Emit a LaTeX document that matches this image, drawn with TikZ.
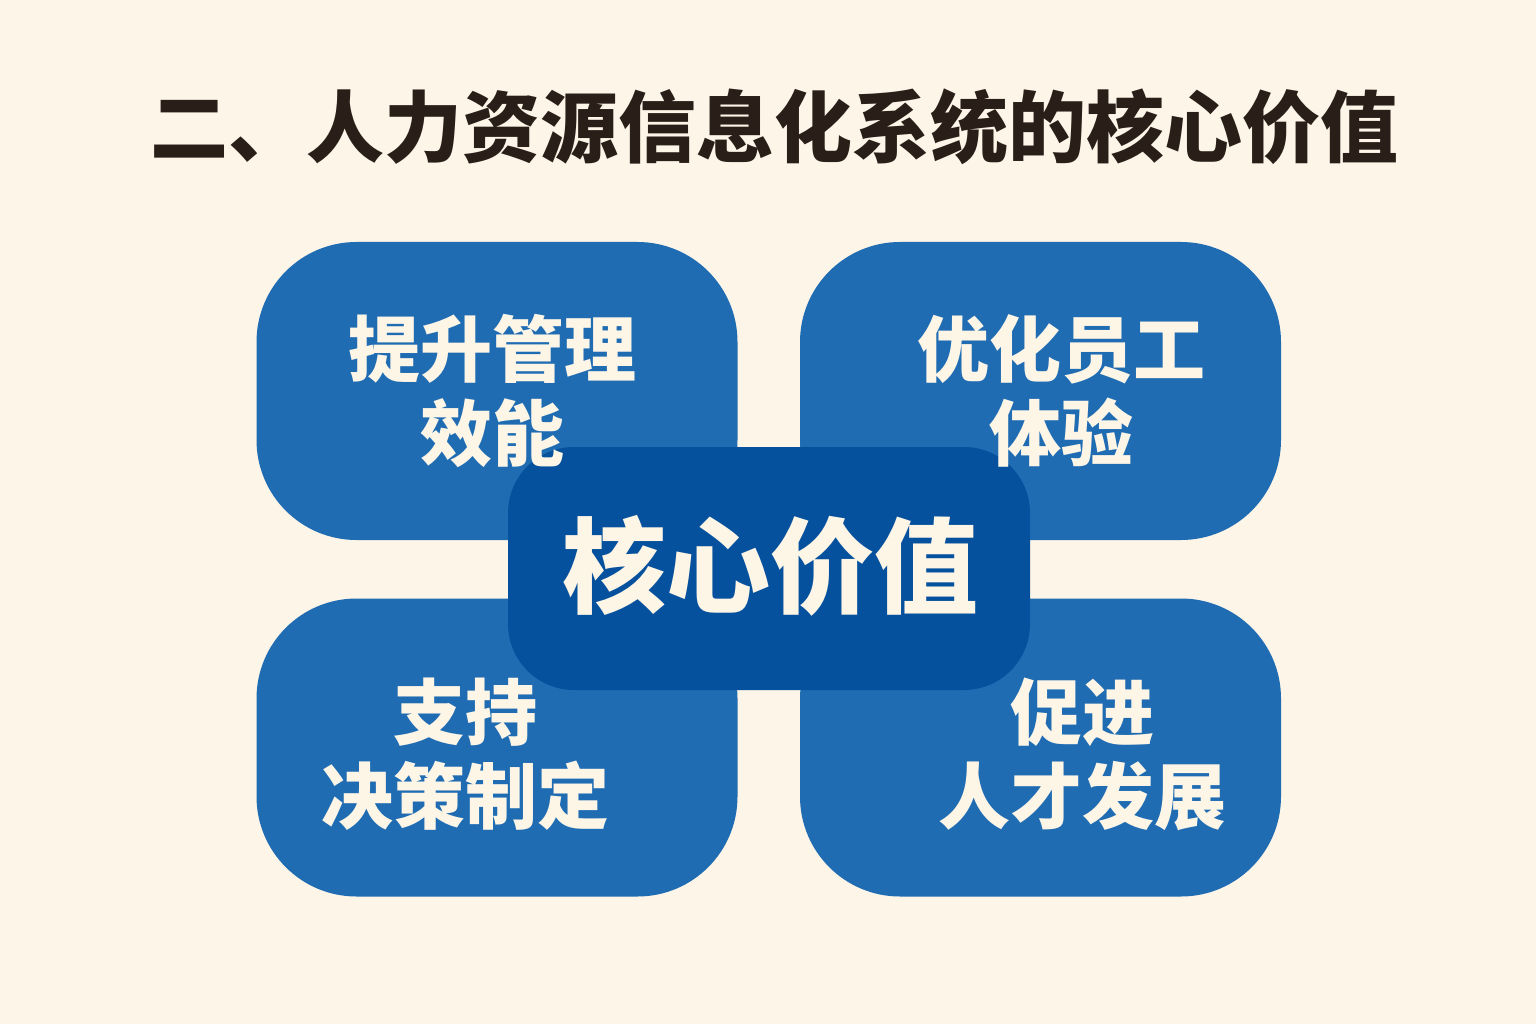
\documentclass[tikz,border=0pt]{standalone}
\usepackage{fontspec}
\newfontfamily\cjk{Noto Sans CJK SC}
\definecolor{bgc}{HTML}{FDF5E7}
\definecolor{outerblue}{HTML}{1F6CB3}
\definecolor{innerblue}{HTML}{06519D}
\definecolor{titlec}{HTML}{2A1E18}
\definecolor{txtc}{HTML}{FDF5E6}
\tikzset{
  outerbox/.style={fill=outerblue, draw=none, rounded corners=100pt, inner sep=0pt,
    minimum width=481pt, minimum height=298pt},
  centerbox/.style={fill=innerblue, draw=none, rounded corners=66pt, inner sep=0pt,
    minimum width=522pt, minimum height=243pt},
  boxtext/.style={text=txtc, align=center, inner sep=0pt,
    font=\cjk\bfseries\fontsize{72pt}{84pt}\selectfont},
  centertext/.style={text=txtc, inner sep=0pt,
    font=\cjk\bfseries\fontsize{104pt}{110pt}\selectfont},
  titletext/.style={text=titlec, inner sep=0pt,
    font=\cjk\bfseries\fontsize{78pt}{84pt}\selectfont}
}
\begin{document}
\begin{tikzpicture}[x=1pt,y=-1pt]
\fill[bgc] (0,0) rectangle (1536,1024);
\useasboundingbox (0,0) rectangle (1536,1024);
\node[titletext] (title) at (774,127) {二、人力资源信息化系统的核心价值};
\node[outerbox] (tl) at (497,391) {};
\node[outerbox] (tr) at (1040.5,391) {};
\node[outerbox] (bl) at (497,747.5) {};
\node[outerbox] (br) at (1040.5,747.5) {};
\node[centerbox] (c) at (769,568.5) {};
\node[boxtext] (tlt) at (492,391) {提升管理\\效能};
\node[boxtext] (trt) at (1061,391) {优化员工\\体验};
\node[boxtext] (blt) at (465,754) {支持\\决策制定};
\node[boxtext] (brt) at (1082,754) {促进\\人才发展};
\node[centertext] (ct) at (770,566) {核心价值};
\end{tikzpicture}
\end{document}
